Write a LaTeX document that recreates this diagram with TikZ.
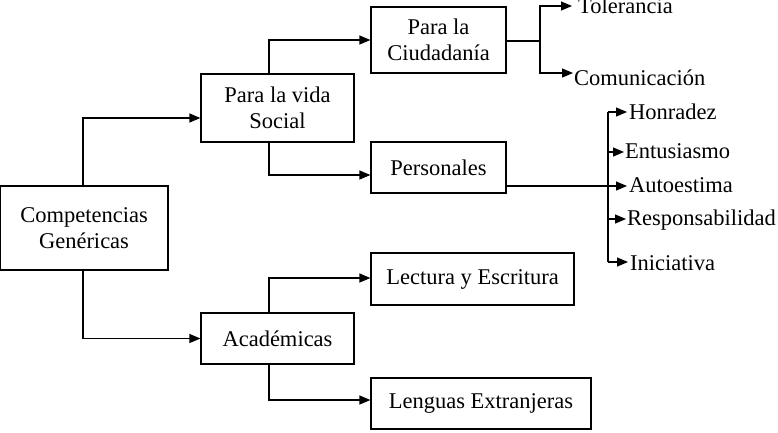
\documentclass[tikz,border=0pt]{standalone}
\usepackage{fontspec}
\setmainfont{Liberation Serif}
\usetikzlibrary{arrows.meta}
\begin{document}
\begin{tikzpicture}[x=1pt,y=-1pt,
  box/.style={draw,line width=1.2pt,inner sep=0pt,align=center,
    font=\fontsize{22.5}{26}\selectfont},
  leaf/.style={inner sep=0pt,anchor=base west,font=\fontsize{22.5}{26}\selectfont},
  conn/.style={line width=1.2pt},
  arr/.style={conn,-{Triangle[length=11pt,width=9pt]}}]
\useasboundingbox (0,0) rectangle (778,432);
% boxes
\node[box,minimum width=168pt,minimum height=84pt] (comp) at (84,228) {Competencias\\Genéricas};
\node[box,minimum width=153pt,minimum height=68pt] (vida) at (277.5,108) {Para la vida\\Social};
\node[box,minimum width=135pt,minimum height=66pt] (ciu) at (438.5,40) {Para la\\Ciudadanía};
\node[box,minimum width=135pt,minimum height=51pt] (pers) at (438.5,167.5) {Personales};
\node[box,minimum width=153pt,minimum height=51pt] (acad) at (277.5,338.5) {Académicas};
\node[box,minimum width=203pt,minimum height=52pt] (lect) at (472.5,279) {Lectura y Escritura};
\node[box,minimum width=220pt,minimum height=51pt] (leng) at (481,403.5) {Lenguas Extranjeras};
% leaves
\node[leaf] (tol) at (578,13) {Tolerancia};
\node[leaf] (com) at (574,85) {Comunicación};
\node[leaf] (hon) at (629,119) {Honradez};
\node[leaf] (ent) at (625,158) {Entusiasmo};
\node[leaf] (aut) at (629,192) {Autoestima};
\node[leaf] (res) at (627,225) {Responsabilidad};
\node[leaf] (ini) at (630,270) {Iniciativa};
% main connectors
\draw[arr] (comp.north -| 83,0) |- (vida.west |- 0,118);
\draw[arr] (comp.south -| 83,0) |- (acad.west);
\draw[arr] (vida.south -| 269,0) |- (pers.west |- 0,175);
\draw[arr] (vida.north -| 269,0) |- (ciu.west);
\draw[arr] (acad.north -| 269,0) |- (lect.west |- 0,278);
\draw[arr] (acad.south -| 269,0) |- (leng.west |- 0,400);
% ciudadania branch
\coordinate (cb) at (540,41);
\draw[conn] (ciu.east |- cb) -- (cb);
\draw[arr] (cb) |- (572,6);
\draw[arr] (cb) |- (573,73);
% personales branch
\coordinate (pb) at (608,186);
\draw[conn] (pers.east |- pb) -- (pb);
\draw[conn] (608,112) -- (608,262);
\draw[arr] (608,112) -- (627,112);
\draw[arr] (608,152) -- (624,152);
\draw[arr] (608,186) -- (627,186);
\draw[arr] (608,219) -- (626,219);
\draw[arr] (608,262) -- (628,262);
\end{tikzpicture}
\end{document}
